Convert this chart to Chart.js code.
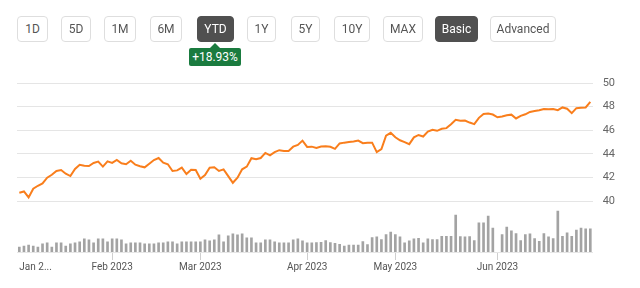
<!DOCTYPE html>
<html>
<head>
<meta charset="utf-8">
<script src="https://cdn.jsdelivr.net/npm/chart.js@4"></script>
<style>
  body { margin: 0; width: 640px; height: 288px; overflow: hidden; background: #fff; font-family: Roboto, sans-serif; position: relative; }
  #chart-wrap { position: absolute; left: 0; top: 0; width: 640px; height: 288px; }
  .btn { position: absolute; top: 16px; height: 26px; box-sizing: border-box; border: 1px solid #dedede; border-radius: 4px;
         font-size: 12px; color: #555; line-height: 24px; text-align: center; background: #fff; z-index: 2; }
  .btn.on { background: #505050; border-color: #505050; color: #fff; }
  #chg { position: absolute; left: 189px; top: 48px; width: 52px; height: 18px; background: #1a7b3f; color: #fff;
         font-size: 12px; line-height: 18px; text-align: center; border-radius: 2px; z-index: 2; }
  #chg:before { content: ''; position: absolute; left: 21px; top: -5px; border-left: 5px solid transparent;
                border-right: 5px solid transparent; border-bottom: 5px solid #1a7b3f; }
</style>
</head>
<body>
<div id="buttons"></div>
<div id="chg">+18.93%</div>
<div id="chart-wrap"><canvas id="chart-ytd"></canvas></div>
<script>
    /* Range buttons: label, left, width */
    const buttons = [
        ['1D', 17, 31], ['5D', 61, 30], ['1M', 104, 32], ['6M', 150, 32], ['YTD', 197, 37],
        ['1Y', 247, 29], ['5Y', 291, 29], ['10Y', 334, 36], ['MAX', 383, 40], ['Basic', 435, 43], ['Advanced', 490, 66]
    ];
    const activeButtons = ['YTD', 'Basic'];

    // Trading calendar, Jan 3 - Jun 30 2023
    const firstDay = '2023-01-03';
    const lastDay = '2023-06-30';
    const holidays = ['2023-01-16', '2023-02-20', '2023-04-07', '2023-05-29', '2023-06-19'];

    // Month tick labels (shown on first trading day of each month)
    const monthLabels = ['Jan 2...', 'Feb 2023', 'Mar 2023', 'Apr 2023', 'May 2023', 'Jun 2023'];

    // Daily close
    const closes = [
        40.71, 40.82, 40.31, 41.05, 41.30, 41.50, 41.98, 42.23, 42.55, 42.63,
        42.32, 42.12, 42.72, 43.08, 43.00, 42.97, 43.23, 43.34, 42.92, 43.37,
        43.23, 43.48, 43.20, 43.12, 43.42, 43.08, 42.95, 42.86, 43.17, 43.48,
        43.65, 43.25, 43.12, 42.55, 42.60, 42.83, 42.29, 42.66, 42.63, 41.90,
        42.21, 42.83, 42.86, 42.55, 42.69, 42.12, 41.55, 41.98, 42.69, 42.92,
        43.63, 43.54, 43.65, 44.08, 43.88, 44.14, 44.31, 44.25, 44.25, 44.61,
        44.76, 45.12, 44.59, 44.61, 44.50, 44.62, 44.65, 44.60, 44.42, 44.88,
        44.95, 45.00, 45.05, 45.12, 44.90, 44.95, 44.95, 44.15, 44.40, 45.55,
        45.78, 45.40, 45.15, 45.00, 44.82, 45.40, 45.60, 45.47, 45.88, 46.03,
        45.95, 46.12, 46.18, 46.50, 46.88, 46.80, 46.82, 46.65, 46.52, 47.05,
        47.37, 47.42, 47.33, 47.10, 47.17, 47.27, 47.32, 47.00, 47.22, 47.35,
        47.55, 47.63, 47.70, 47.80, 47.77, 47.80, 47.70, 47.93, 47.82, 47.45,
        47.87, 47.90, 47.93, 48.40
    ];

    // Daily volume (relative)
    const volumes = [
        5, 6, 7, 6, 5, 8, 9, 5, 9, 9,
        6, 8, 9, 10, 13, 12, 9, 13, 13, 10,
        13, 13, 12, 8, 9, 9, 9, 8, 8, 8,
        9, 9, 10, 10, 8, 10, 10, 10, 10, 10,
        12, 11, 12, 17, 10, 16, 18, 17, 18, 14,
        14, 9, 9, 12, 12, 10, 9, 9, 9, 12,
        13, 11, 9, 9, 9.3, 9.7, 11.3, 9.3, 8.7, 7.7,
        6, 7, 7, 7, 10.3, 7.3, 14.3, 15, 12.3, 17.3,
        19.7, 17.3, 15, 9, 11, 13, 13.7, 9, 13, 12.3,
        12.3, 15.7, 15.7, 15.7, 36.7, 15.3, 15, 15.3, 11.3, 29,
        29, 35.7, 23.7, null, 17.3, 24.7, 21, 18.3, 11.3, 17.3,
        18, 13.3, 10.7, 18.3, 15, 13.3, 40.7, 15.7, 19, 15.7,
        21.7, 23.7, 23, 23
    ];

    const priceTicks = [40, 42, 44, 46, 48, 50];

    /* Build buttons */
    const bar = document.getElementById('buttons');
    buttons.forEach(([txt, left, width]) => {
        const b = document.createElement('div');
        b.className = 'btn' + (activeButtons.includes(txt) ? ' on' : '');
        b.style.left = left + 'px';
        b.style.width = width + 'px';
        b.textContent = txt;
        bar.appendChild(b);
    });

    /* Build trading day labels */
    const labels = [];
    const monthStart = {};
    let d = new Date(firstDay + 'T00:00:00Z');
    const end = new Date(lastDay + 'T00:00:00Z');
    let lastMonth = -1;
    while (d <= end) {
        const iso = d.toISOString().slice(0, 10);
        const wd = d.getUTCDay();
        if (wd !== 0 && wd !== 6 && !holidays.includes(iso)) {
            if (d.getUTCMonth() !== lastMonth) {
                lastMonth = d.getUTCMonth();
                monthStart[labels.length] = monthLabels[lastMonth];
            }
            labels.push(iso);
        }
        d = new Date(d.getTime() + 86400000);
    }

    new Chart(document.getElementById('chart-ytd'), {
        data: {
            labels: labels,
            datasets: [
                {
                    type: 'line',
                    data: closes,
                    yAxisID: 'y',
                    borderColor: '#f97e1c',
                    borderWidth: 2,
                    pointRadius: 0,
                    tension: 0,
                    order: 0
                },
                {
                    type: 'bar',
                    data: volumes,
                    yAxisID: 'vol',
                    backgroundColor: '#a3a3a3',
                    barThickness: 2,
                    order: 1
                }
            ]
        },
        options: {
            responsive: true,
            maintainAspectRatio: false,
            animation: false,
            layout: { padding: { left: 17, right: 15, top: 83, bottom: 14 } },
            plugins: { legend: { display: false }, tooltip: { enabled: false } },
            scales: {
                x: {
                    type: 'category',
                    offset: true,
                    grid: {
                        offset: false,
                        drawOnChartArea: false,
                        tickLength: 8,
                        color: (ctx) => (ctx.index > 0 && monthStart[ctx.index]) ? '#cfcfcf' : 'rgba(0,0,0,0)'
                    },
                    border: { display: true, color: '#e6e6e6' },
                    ticks: {
                        autoSkip: false,
                        maxRotation: 0,
                        align: 'inner',
                        padding: 1,
                        color: '#555',
                        font: { family: 'Roboto', size: 10 },
                        callback: (v, i) => monthStart[i] || ''
                    }
                },
                y: {
                    position: 'right',
                    min: 35.69,
                    max: 50,
                    afterBuildTicks: (axis) => { axis.ticks = priceTicks.map(v => ({ value: v })); },
                    grid: { color: '#e5e5e5', drawTicks: false },
                    border: { display: false },
                    ticks: { padding: 10, color: '#666', font: { family: 'Roboto', size: 11 } }
                },
                vol: {
                    display: false,
                    min: 0,
                    max: 168
                }
            }
        }
    });
</script>
</body>
</html>
